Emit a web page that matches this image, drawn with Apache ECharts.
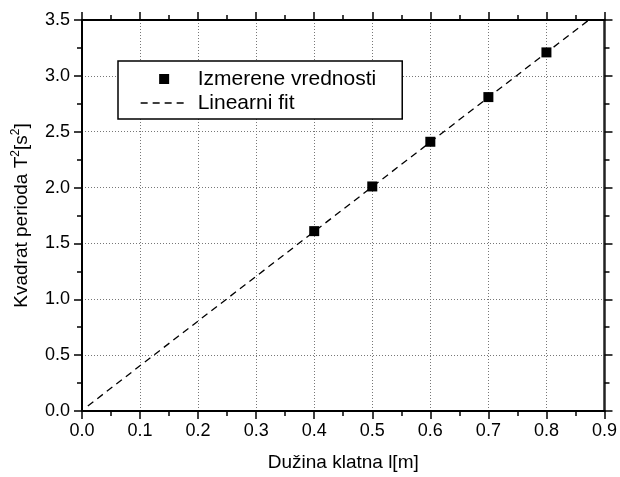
<!DOCTYPE html>
<html>
<head>
<meta charset="utf-8">
<script src="https://cdn.jsdelivr.net/npm/echarts@6/dist/echarts.min.js"></script>
<style>
html,body{margin:0;padding:0;background:#fff;}
#chart{width:620px;height:477px;}
</style>
</head>
<body>
<div id="chart"></div>
<script>
// Data
var measuredX = [0.4, 0.5, 0.6, 0.7, 0.8];
var measuredY = [1.61, 2.01, 2.41, 2.81, 3.21];
var fitX = [0.01, 0.873];
var fitY = [0.045, 3.5];
var xTicks = [0.0, 0.1, 0.2, 0.3, 0.4, 0.5, 0.6, 0.7, 0.8, 0.9];
var yTicks = [0.0, 0.5, 1.0, 1.5, 2.0, 2.5, 3.0, 3.5];
var seriesNames = ['Izmerene vrednosti', 'Linearni fit'];
var xTitle = 'Dužina klatna l[m]';

var FONT = 'Liberation Sans';
var chart = echarts.init(document.getElementById('chart'), null, {renderer: 'canvas'});

function pairs(xs, ys) { return xs.map(function (x, i) { return [x, ys[i]]; }); }

var axisLineStyle = {color: '#000', width: 2};
function xAxisCfg(pos, show) {
  return {
    type: 'value', position: pos, min: xTicks[0], max: xTicks[xTicks.length - 1], interval: 0.1,
    axisLine: {show: true, onZero: false, lineStyle: axisLineStyle},
    axisTick: {show: true, inside: false, length: 8, lineStyle: {color: '#000', width: 1.5}},
    minorTick: {show: true, splitNumber: 2, length: 5, lineStyle: {color: '#000', width: 1.5}},
    axisLabel: {show: show, margin: 11, fontFamily: FONT, fontSize: 18, color: '#000',
      formatter: function (v) { return v.toFixed(1); }},
    splitLine: {show: show, lineStyle: {color: '#777', width: 1, type: [1, 2]}},
    minorSplitLine: {show: false},
    name: show ? xTitle : '', nameLocation: 'middle', nameGap: 42,
    nameTextStyle: {fontFamily: FONT, fontSize: 19, color: '#000'}
  };
}
function yAxisCfg(pos, show) {
  return {
    type: 'value', position: pos, min: yTicks[0], max: yTicks[yTicks.length - 1], interval: 0.5,
    axisLine: {show: true, onZero: false, lineStyle: pos === 'right' ? {color: '#222', width: 2.5} : axisLineStyle},
    axisTick: {show: true, inside: false, length: 8, lineStyle: {color: '#000', width: 1.5}},
    minorTick: {show: true, splitNumber: 2, length: 5, lineStyle: {color: '#000', width: 1.5}},
    axisLabel: {show: show, margin: 12, fontFamily: FONT, fontSize: 18, color: '#000',
      formatter: function (v) { return v.toFixed(1); }},
    splitLine: {show: show, lineStyle: {color: '#777', width: 1, type: [1, 2]}},
    name: show ? 'Kvadrat perioda T{sup|2}[s{sup|2}]' : '', nameLocation: 'middle', nameGap: 46,
    nameRotate: 90,
    nameTextStyle: {fontFamily: FONT, fontSize: 19, color: '#000', lineHeight: 24,
      rich: {sup: {fontFamily: FONT, fontSize: 12, color: '#000', verticalAlign: 'top', lineHeight: 24, padding: [0, 0, 8, 0]}}}
  };
}

var squareIcon = 'path://M0,0h0.01v0.01h-0.01z M18.5,0h10v10h-10z M47,9.99h0.01v0.01h-0.01z';

var option = {
  backgroundColor: '#fff',
  animation: false,
  grid: {left: 82, right: 13, top: 20, bottom: 65, containLabel: false},
  xAxis: [xAxisCfg('bottom', true), xAxisCfg('top', false)],
  yAxis: [yAxisCfg('left', true), yAxisCfg('right', false)],
  legend: {
    orient: 'vertical', left: 118, top: 61,
    padding: [6, 26, 4, 22], itemGap: 0, itemWidth: 47, itemHeight: 10,
    borderColor: '#000', borderWidth: 1.5, backgroundColor: '#fff',
    textStyle: {fontFamily: FONT, fontSize: 21, color: '#000', lineHeight: 24, padding: [0, 0, 0, 5]},
    data: [
      {name: seriesNames[0], icon: squareIcon, itemStyle: {color: '#000', opacity: 1}},
      {name: seriesNames[1], itemStyle: {opacity: 0}, lineStyle: {color: '#000', width: 1.3, type: [7, 5], opacity: 1}}
    ]
  },
  series: [
    {
      name: seriesNames[1], type: 'line', xAxisIndex: 0, yAxisIndex: 0,
      data: pairs(fitX, fitY), symbol: 'none', showSymbol: false,
      lineStyle: {color: '#000', width: 1.3, type: [7, 5]}, itemStyle: {color: '#000'}, z: 2
    },
    {
      name: seriesNames[0], type: 'scatter', xAxisIndex: 0, yAxisIndex: 0,
      data: pairs(measuredX, measuredY), symbol: 'rect', symbolSize: 10,
      itemStyle: {color: '#000', opacity: 1}, z: 3
    }
  ]
};
chart.setOption(option);
</script>
</body>
</html>
